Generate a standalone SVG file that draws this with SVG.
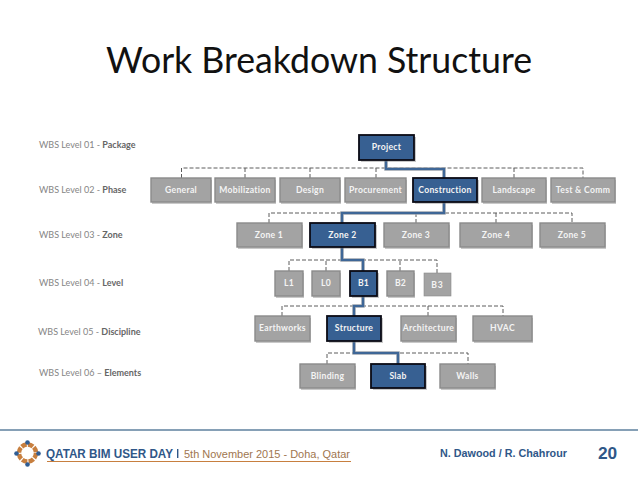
<svg xmlns="http://www.w3.org/2000/svg" width="638" height="479" viewBox="0 0 638 479">
<style>
.g{fill:#a3a3a3;stroke:#8a8a8a;stroke-width:1.4}
.b{fill:#376092;stroke:#0b0b14;stroke-width:1.800}
.s{fill:#777;opacity:.4}
.t{font-family:"Lato","Liberation Sans",sans-serif;font-size:8.600px;font-weight:700;fill:#f4f4f4;text-anchor:middle;letter-spacing:.3px}
.l{font-family:"Lato","Liberation Sans",sans-serif;font-size:9px;fill:#858585}
.l tspan{font-weight:700;fill:#666}
.d{fill:none;stroke:#5c5c5c;stroke-width:1;stroke-dasharray:4 2}
.h{fill:none;stroke:#9aa3ad;stroke-width:3.400}
.p{fill:none;stroke:#3f6797;stroke-width:2.200}
</style>
<rect width="638" height="479" fill="#fff"/>
<text x="319" y="73" text-anchor="middle" font-family="Lato,'Liberation Sans',sans-serif" font-size="36.500px" fill="#111" textLength="426" lengthAdjust="spacingAndGlyphs">Work Breakdown Structure</text>
<g id="level-labels">
<text class="l" x="39" y="148">WBS Level 01 -  <tspan>Package</tspan></text>
<text class="l" x="39" y="193">WBS Level 02 - <tspan>Phase</tspan></text>
<text class="l" x="39" y="238">WBS Level 03 - <tspan>Zone</tspan></text>
<text class="l" x="39" y="286">WBS Level 04 - <tspan>Level</tspan></text>
<text class="l" x="38" y="335">WBS Level 05 - <tspan>Discipline</tspan></text>
<text class="l" x="39" y="376">WBS Level 06 – <tspan>Elements</tspan></text>
</g>
<g id="connectors">
<path class="d" d="M181.500 178V168H583V178M245 178V168M310 178V168M376 178V168M514 178V168"/>
<path class="d" d="M269 223V213H572V223M416 223V213M496 223V213"/>
<path class="d" d="M289 271V260H437V273M326 271V260M400 271V260"/>
<path class="d" d="M282 316V306H503V316M428 316V306"/>
<path class="d" d="M327 364V353H468V364"/>
<path class="h" d="M386 160V169H444V178M444 202V213H342V223M342 247V260H363V271M363 296V306H354V316M354 341V353H398V364"/>
<path class="p" d="M386 160V169H444V178M444 202V213H342V223M342 247V260H363V271M363 296V306H354V316M354 341V353H398V364"/>
</g>
<g id="project"><rect class="s" x="361" y="137" width="55" height="25"/><rect class="b" x="359" y="135" width="55" height="25"/><text class="t" x="386.500" y="150">Project</text></g>
<g id="general"><rect class="s" x="152" y="180" width="60" height="24"/><rect class="g" x="151" y="178" width="60" height="24"/><text class="t" x="181" y="193">General</text></g>
<g id="mobilization"><rect class="s" x="216" y="180" width="60" height="24"/><rect class="g" x="215" y="178" width="60" height="24"/><text class="t" x="245" y="193">Mobilization</text></g>
<g id="design"><rect class="s" x="281" y="180" width="60" height="24"/><rect class="g" x="280" y="178" width="60" height="24"/><text class="t" x="310" y="193">Design</text></g>
<g id="procurement"><rect class="s" x="346" y="180" width="61" height="24"/><rect class="g" x="345" y="178" width="61" height="24"/><text class="t" x="375.500" y="193">Procurement</text></g>
<g id="construction"><rect class="s" x="415" y="180" width="64" height="24"/><rect class="b" x="413" y="178" width="64" height="24"/><text class="t" x="445" y="193">Construction</text></g>
<g id="landscape"><rect class="s" x="483" y="180" width="64" height="24"/><rect class="g" x="482" y="178" width="64" height="24"/><text class="t" x="514" y="193">Landscape</text></g>
<g id="test-comm"><rect class="s" x="552" y="180" width="64" height="24"/><rect class="g" x="551" y="178" width="64" height="24"/><text class="t" x="583" y="193">Test &amp; Comm</text></g>
<g id="zone1"><rect class="s" x="238" y="225" width="65" height="24"/><rect class="g" x="237" y="223" width="65" height="24"/><text class="t" x="269" y="238">Zone 1</text></g>
<g id="zone2"><rect class="s" x="312" y="225" width="65" height="24"/><rect class="b" x="310" y="223" width="65" height="24"/><text class="t" x="342.500" y="238">Zone 2</text></g>
<g id="zone3"><rect class="s" x="385" y="225" width="65" height="24"/><rect class="g" x="384" y="223" width="65" height="24"/><text class="t" x="416" y="238">Zone 3</text></g>
<g id="zone4"><rect class="s" x="461" y="225" width="72" height="24"/><rect class="g" x="460" y="223" width="72" height="24"/><text class="t" x="496" y="238">Zone 4</text></g>
<g id="zone5"><rect class="s" x="541" y="225" width="65" height="24"/><rect class="g" x="540" y="223" width="65" height="24"/><text class="t" x="572" y="238">Zone 5</text></g>
<g id="l1"><rect class="s" x="276" y="273" width="28" height="25"/><rect class="g" x="275" y="271" width="28" height="25"/><text class="t" x="289" y="286">L1</text></g>
<g id="l0"><rect class="s" x="313" y="273" width="28" height="25"/><rect class="g" x="312" y="271" width="28" height="25"/><text class="t" x="326" y="286">L0</text></g>
<g id="b1"><rect class="s" x="352" y="273" width="27" height="25"/><rect class="b" x="350" y="271" width="27" height="25"/><text class="t" x="363.500" y="286">B1</text></g>
<g id="b2"><rect class="s" x="388" y="273" width="27" height="25"/><rect class="g" x="387" y="271" width="27" height="25"/><text class="t" x="400.500" y="286">B2</text></g>
<g id="b3"><rect class="g" x="424" y="273" width="27" height="23" style="stroke-width:.6"/><text class="t" x="437.500" y="288" style="letter-spacing:1px">B3</text></g>
<g id="earthworks"><rect class="s" x="256" y="318" width="55" height="25"/><rect class="g" x="255" y="316" width="55" height="25"/><text class="t" x="282.500" y="331">Earthworks</text></g>
<g id="structure"><rect class="s" x="329" y="318" width="54" height="25"/><rect class="b" x="327" y="316" width="54" height="25"/><text class="t" x="354" y="331">Structure</text></g>
<g id="architecture"><rect class="s" x="402" y="318" width="55" height="25"/><rect class="g" x="401" y="316" width="55" height="25"/><text class="t" x="428.500" y="331">Architecture</text></g>
<g id="hvac"><rect class="s" x="474" y="318" width="59" height="25"/><rect class="g" x="473" y="316" width="59" height="25"/><text class="t" x="502.500" y="331">HVAC</text></g>
<g id="blinding"><rect class="s" x="301" y="366" width="55" height="24"/><rect class="g" x="300" y="364" width="55" height="24"/><text class="t" x="327.500" y="379">Blinding</text></g>
<g id="slab"><rect class="s" x="373" y="366" width="54" height="24"/><rect class="b" x="371" y="364" width="54" height="24"/><text class="t" x="398" y="379">Slab</text></g>
<g id="walls"><rect class="s" x="441" y="366" width="55" height="24"/><rect class="g" x="440" y="364" width="55" height="24"/><text class="t" x="467.500" y="379">Walls</text></g>
<g id="footer">
<rect x="0" y="429" width="638" height="2" fill="#86a0b6"/>
<circle cx="27.500" cy="453" r="8.500" fill="none" stroke="#c77f3f" stroke-width="4.500" stroke-dasharray="5.500 1.200"/>
<g fill="#2f5d94"><circle cx="27.500" cy="442.500" r="2.300"/><circle cx="27.500" cy="464.500" r="2.300"/><circle cx="16.500" cy="453.500" r="2.300"/><circle cx="38.500" cy="453.500" r="2.300"/></g>
<text x="46" y="457.500" font-family="'Liberation Sans',sans-serif" font-size="12px" font-weight="700" fill="#2f5788" textLength="127" lengthAdjust="spacingAndGlyphs">QATAR BIM USER DAY</text>
<rect x="177" y="449" width="1.400" height="9" fill="#2f5788"/>
<text x="184" y="457.500" font-family="'Liberation Sans',sans-serif" font-size="11.300px" fill="#a0764f" textLength="166" lengthAdjust="spacingAndGlyphs">5th November 2015 - Doha, Qatar</text>
<rect x="47" y="461" width="304" height="1" fill="#c77f3f"/>
<text x="440" y="456.500" font-family="'Liberation Sans',sans-serif" font-size="11.300px" font-weight="700" fill="#2f5788" textLength="127" lengthAdjust="spacingAndGlyphs">N. Dawood / R. Chahrour</text>
<text x="598" y="459" font-family="'Liberation Sans',sans-serif" font-size="17.300px" font-weight="700" fill="#2f5788">20</text>
</g>
</svg>
